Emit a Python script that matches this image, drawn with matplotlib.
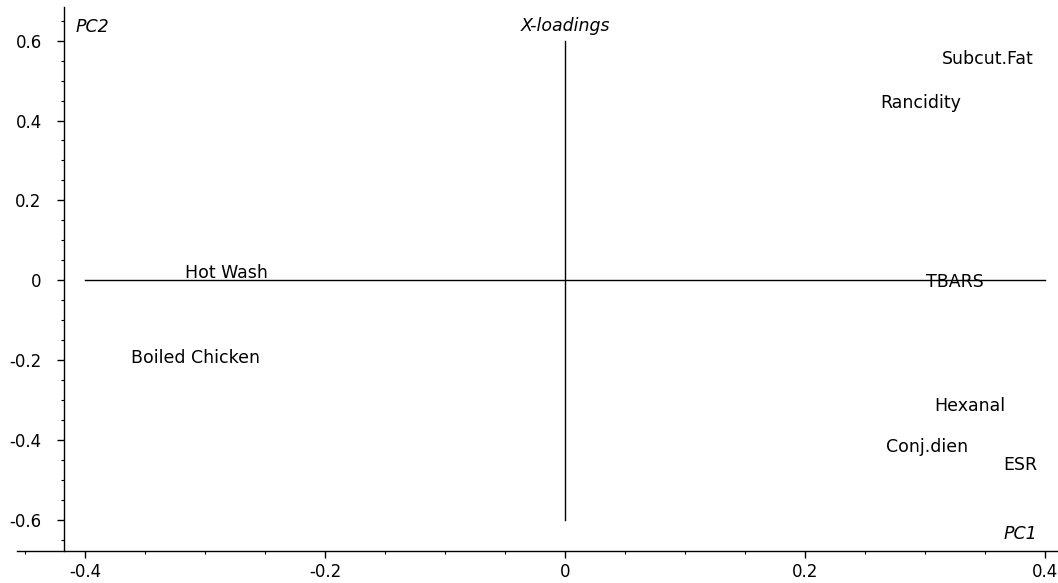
import matplotlib
matplotlib.use("Agg")
import matplotlib.pyplot as plt
from matplotlib.ticker import FixedLocator

plt.rcParams['font.family'] = ['DejaVu Sans']

# Data: variable loadings (label anchor positions, PC1 / PC2)
labels = ["Subcut.Fat", "Rancidity", "TBARS", "Hexanal", "Conj.dien", "ESR",
          "Hot Wash", "Boiled Chicken"]
pc1 = [0.314, 0.263, 0.301, 0.308, 0.2675, 0.365, -0.3167, -0.362]
pc2 = [0.555, 0.445, -0.005, -0.315, -0.418, -0.462, 0.0175, -0.195]

x_ticks = [-0.4, -0.2, 0, 0.2, 0.4]
x_tick_labels = ["-0.4", "-0.2", "0", "0.2", "0.4"]
y_ticks = [-0.6, -0.4, -0.2, 0, 0.2, 0.4, 0.6]
y_tick_labels = ["-0.6", "-0.4", "-0.2", "0", "0.2", "0.4", "0.6"]

fig = plt.figure(figsize=(10.58, 5.83), dpi=100)
ax = fig.add_axes([0, 0, 1, 1])
ax.set_xlim(-0.4708, 0.4108)
ax.set_ylim(-0.758, 0.7018)
ax.patch.set_alpha(0)

ax.spines['top'].set_visible(False)
ax.spines['right'].set_visible(False)
ax.spines['left'].set_position(('data', -0.4175))
ax.spines['left'].set_bounds(-0.677, 0.684)
ax.spines['bottom'].set_position(('data', -0.677))
ax.spines['bottom'].set_bounds(-0.4567, 0.4108)
for s in ('left', 'bottom'):
    ax.spines[s].set_linewidth(1.0)

ax.xaxis.set_major_locator(FixedLocator(x_ticks))
ax.set_xticklabels(x_tick_labels)
ax.xaxis.set_minor_locator(FixedLocator([i * 0.05 for i in range(-9, 9)]))
ax.yaxis.set_major_locator(FixedLocator(y_ticks))
ax.set_yticklabels(y_tick_labels)
ax.yaxis.set_minor_locator(FixedLocator([i * 0.05 for i in range(-13, 14)]))

ax.tick_params(axis='both', which='major', direction='out', length=5, width=1.0,
               labelsize=12, colors='black')
ax.tick_params(axis='both', which='minor', direction='out', length=2.5, width=0.8)
ax.tick_params(axis='x', which='major', pad=4)
ax.tick_params(axis='y', which='major', pad=11)

# Cross-hair axes lines
ax.plot([-0.4, 0.4], [0, 0], color='black', lw=1.0)
ax.plot([0, 0], [-0.6, 0.6], color='black', lw=1.0)

for lab, xv, yv in zip(labels, pc1, pc2):
    ax.text(xv, yv, lab, ha='left', va='center', fontsize=12.5, color='black')

ax.text(0, 0.637, "X-loadings", ha='center', va='center', fontsize=12.5, style='italic')
ax.text(-0.4075, 0.634, "PC2", ha='left', va='center', fontsize=12.5, style='italic')
ax.text(0.365, -0.635, "PC1", ha='left', va='center', fontsize=12.5, style='italic')

fig.savefig("out.png", dpi=100)
